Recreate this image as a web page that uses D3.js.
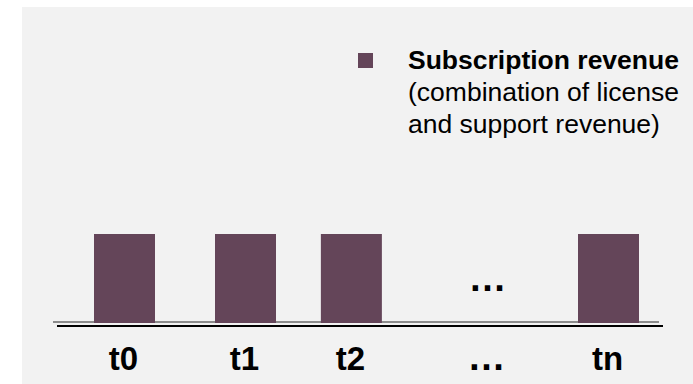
<!DOCTYPE html>
<html>
<head>
<meta charset="utf-8">
<script src="https://cdn.jsdelivr.net/npm/d3@7/dist/d3.min.js"></script>
<style>
  html, body { margin: 0; padding: 0; background: #ffffff; }
  svg { display: block; font-family: "Liberation Sans", Arial, Helvetica, sans-serif; }
</style>
</head>
<body>
<svg id="chart" width="693" height="384"></svg>
<script>
// Periods along the timeline; "…" marks the elided stretch between t2 and tn
const categories = ["t0", "t1", "t2", "…", "tn"];
const periodIndex = [0, 1, 1.875, 3, 4];
const subscriptionRevenue = [1, 1, 1, null, 1];
const legendLines = ["Subscription revenue", "(combination of license", "and support revenue)"];

const W = 693, H = 384;
const svg = d3.select("#chart");

// panel
svg.append("rect")
  .attr("x", 22).attr("y", 7)
  .attr("width", W - 22).attr("height", H - 7)
  .attr("fill", "#f2f2f2");

const baseline = 323;
const x = d3.scaleLinear().domain([0, 4]).range([124.5, 608.5]);
const y = d3.scaleLinear().domain([0, 1]).range([baseline, 234]);
const barW = 61;

const rows = categories.map((c, i) => ({ cat: c, pos: periodIndex[i], v: subscriptionRevenue[i] }));

// axis floor: grey line with a black line just beneath
svg.append("line")
  .attr("x1", 53).attr("x2", 659)
  .attr("y1", baseline - 1).attr("y2", baseline - 1)
  .attr("stroke", "#8c8c8c").attr("stroke-width", 2);
svg.append("line")
  .attr("x1", 57).attr("x2", 663)
  .attr("y1", baseline + 3).attr("y2", baseline + 3)
  .attr("stroke", "#000").attr("stroke-width", 2.2);

// bars
svg.selectAll("rect.bar")
  .data(rows.filter(d => d.v != null))
  .join("rect")
  .attr("class", "bar")
  .attr("x", d => x(d.pos) - barW / 2)
  .attr("y", d => y(d.v))
  .attr("width", barW)
  .attr("height", d => y(0) - y(d.v))
  .attr("fill", "#644559");

// ellipsis standing in for the omitted bars
svg.selectAll("text.gap")
  .data(rows.filter(d => d.v == null))
  .join("text")
  .attr("class", "gap")
  .attr("x", d => x(d.pos))
  .attr("y", 291)
  .attr("text-anchor", "middle")
  .attr("font-weight", "bold")
  .attr("font-size", 38)
  .attr("fill", "#000")
  .text("…");

// category labels
svg.selectAll("text.cat")
  .data(rows)
  .join("text")
  .attr("class", "cat")
  .attr("x", d => x(d.pos) - 1)
  .attr("y", 370)
  .attr("text-anchor", "middle")
  .attr("font-weight", "bold")
  .attr("font-size", d => d.cat === "…" ? 38 : 33)
  .attr("fill", "#000")
  .text(d => d.cat);

// legend
svg.append("rect")
  .attr("x", 358).attr("y", 53)
  .attr("width", 15).attr("height", 15)
  .attr("fill", "#644559");

const legendText = svg.append("text")
  .attr("x", 408).attr("y", 69)
  .attr("font-size", 26.5)
  .attr("fill", "#000");
legendText.selectAll("tspan")
  .data(legendLines)
  .join("tspan")
  .attr("x", 408)
  .attr("dy", (d, i) => i === 0 ? 0 : 32)
  .attr("font-weight", (d, i) => i === 0 ? "bold" : "normal")
  .text(d => d);
</script>
</body>
</html>
